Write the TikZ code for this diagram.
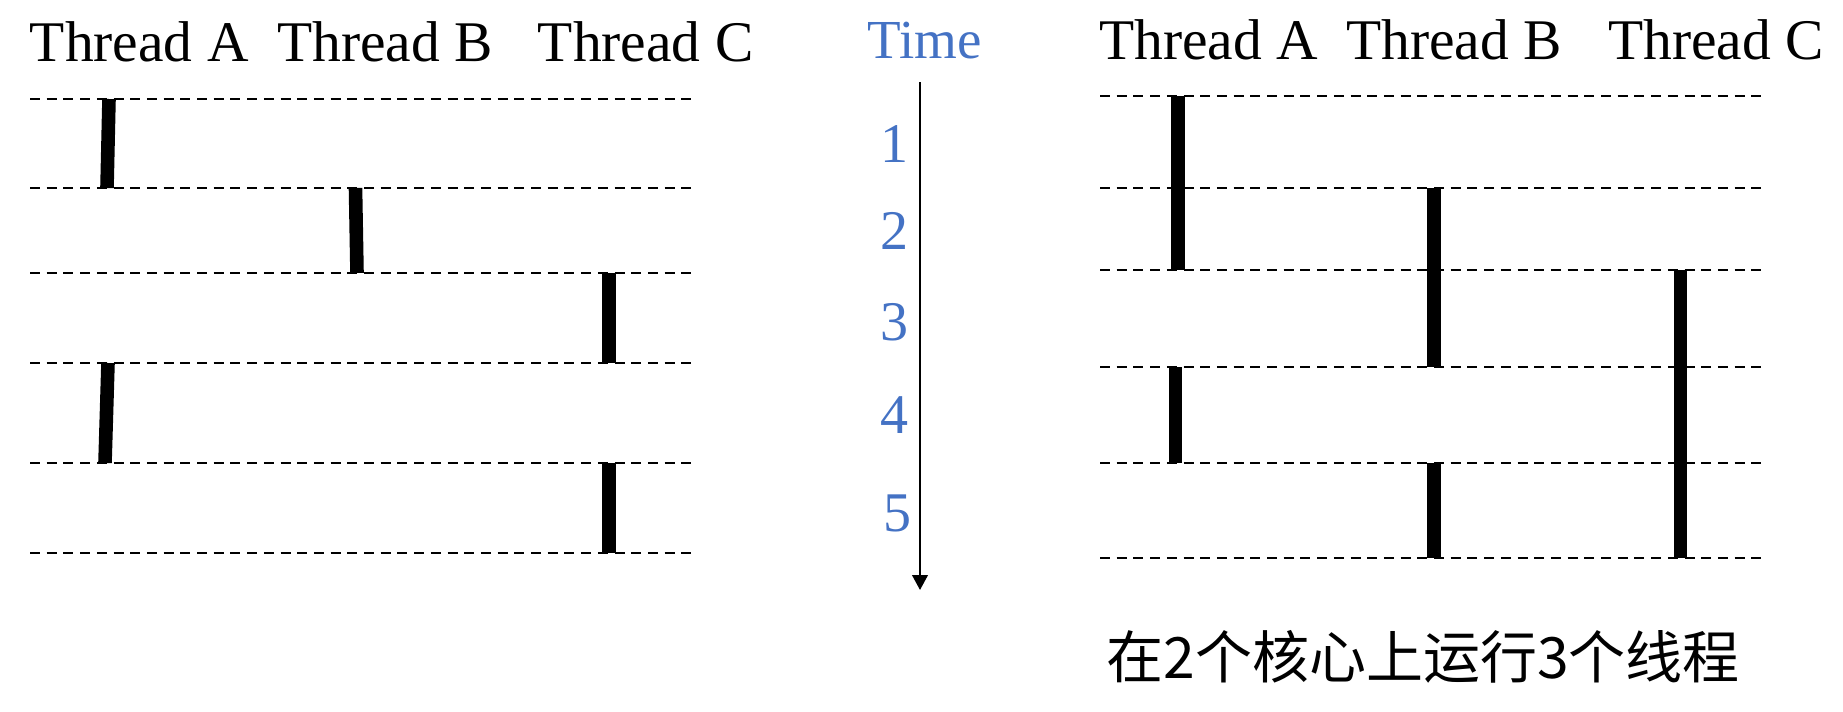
\documentclass[tikz,border=0pt]{standalone}
\usepackage{fontspec}
\setmainfont{Liberation Serif}
\newfontfamily\cjk{Noto Sans CJK SC}
\usetikzlibrary{arrows.meta}
\definecolor{tblue}{HTML}{4472C4}
\tikzset{
  grid/.style={line width=1.2pt, dash pattern=on 5pt off 3.35pt},
  runbar/.style={line width=6.8pt, line cap=butt},
  head/.style={anchor=base west, inner sep=0pt, font=\fontsize{28.75pt}{30pt}\selectfont},
  tnum/.style={anchor=center, inner sep=0pt, text=tblue, font=\fontsize{28pt}{30pt}\selectfont},
}
\begin{document}
\begin{tikzpicture}[x=0.5pt,y=-0.5pt]
\useasboundingbox (0,0) rectangle (1843,712);
% headers
\node[head] (la) at (29.5,61.7) {Thread A};
\node[head] (lb) at (277,61.7) {Thread B};
\node[head] (lc) at (537.5,61.7) {Thread C};
\node[head] (ra) at (1099,59.3) {Thread A};
\node[head] (rb) at (1346,59.3) {Thread B};
\node[head] (rc) at (1608,59.3) {Thread C};
\node[anchor=base west, inner sep=0pt, text=tblue, font=\fontsize{27.5pt}{30pt}\selectfont] (time) at (867,58.3) {Time};
% time numbers
\node[tnum] (n1) at (894,144) {1};
\node[tnum] (n2) at (894,231) {2};
\node[tnum] (n3) at (894,322) {3};
\node[tnum] (n4) at (894,415) {4};
\node[tnum] (n5) at (897,513) {5};
% time arrow
\coordinate (ttop) at (920,82);
\coordinate (tbot) at (920,590);
\draw[line width=1.15pt, -{Triangle[length=7.5pt,width=7.8pt]}] (ttop) -- (tbot);
% left dashed lines
\foreach \y in {99,188,273,363,463,553} \draw[grid] (30,\y) -- (696,\y);
% right dashed lines
\foreach \y in {96,188,270,367,463,558} \draw[grid] (1100,\y) -- (1765,\y);
% left bars
\draw[runbar] (109,99) -- (107,188);
\draw[runbar] (355.5,188) -- (357,273);
\draw[runbar] (609,273) -- (609,363);
\draw[runbar] (108,363) -- (105,463);
\draw[runbar] (609,463) -- (609,553);
% right bars
\draw[runbar] (1178,96) -- (1178,270);
\draw[runbar] (1175.5,367) -- (1175.5,463);
\draw[runbar] (1434,188) -- (1434,367);
\draw[runbar] (1434,463) -- (1434,558);
\draw[runbar] (1680.5,270) -- (1680.5,558);
% caption
\node[anchor=west, inner sep=0pt, font=\cjk\fontsize{28.5pt}{30pt}\selectfont] (cap) at (1106,657) {在2个核心上运行3个线程};
\end{tikzpicture}
\end{document}
